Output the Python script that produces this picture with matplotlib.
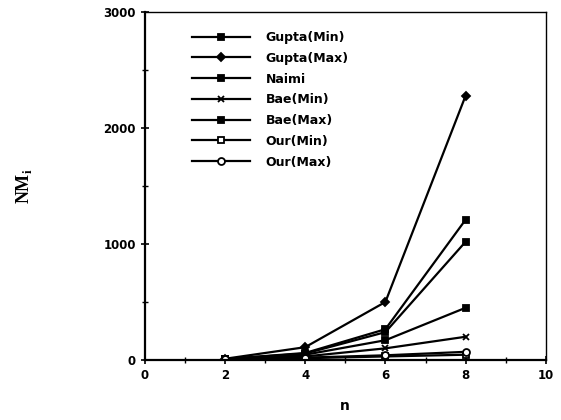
import numpy as np
import matplotlib.pyplot as plt
from matplotlib.ticker import MultipleLocator

# Data
n = [2, 4, 6, 8]
gupta_min = [8, 60, 265, 1210]
gupta_max = [10, 110, 500, 2280]
naimi = [8, 55, 240, 1020]
bae_min = [5, 30, 100, 200]
bae_max = [6, 45, 170, 450]
our_min = [3, 15, 30, 45]
our_max = [4, 20, 40, 70]

series = [
    ('Gupta(Min)', gupta_min, 's', 'k'),
    ('Gupta(Max)', gupta_max, 'D', 'k'),
    ('Naimi', naimi, 's', 'k'),
    ('Bae(Min)', bae_min, 'x', 'k'),
    ('Bae(Max)', bae_max, 's', 'k'),
    ('Our(Min)', our_min, 's', 'w'),
    ('Our(Max)', our_max, 'o', 'w'),
]

plt.rcParams['font.family'] = 'DejaVu Sans'
fig = plt.figure(figsize=(5.61, 4.2), dpi=100)
ax = fig.add_axes([0.258, 0.143, 0.715, 0.828])

for label, y, m, fc in series:
    ms = 4 if m == 'D' else 5
    ax.plot(n, y, color='k', lw=1.6, marker=m, ms=ms, mfc=fc, mec='k',
            mew=1.3, label=label)

ax.set_xlim(0, 10)
ax.set_ylim(0, 3000)
ax.xaxis.set_major_locator(MultipleLocator(2))
ax.xaxis.set_minor_locator(MultipleLocator(1))
ax.yaxis.set_major_locator(MultipleLocator(1000))
ax.yaxis.set_minor_locator(MultipleLocator(500))
ax.tick_params(which='major', direction='inout', length=6, width=1.2,
               labelsize=8.5)
ax.tick_params(which='minor', direction='inout', length=4, width=1)
for lab in ax.get_xticklabels() + ax.get_yticklabels():
    lab.set_fontweight('bold')
for s in ['left', 'bottom']:
    ax.spines[s].set_linewidth(1.6)
for s in ['top', 'right']:
    ax.spines[s].set_linewidth(1.0)

ax.set_xlabel('n', fontsize=10, fontweight='bold', labelpad=12)
ax.set_ylabel('NM$_\\mathregular{i}$', fontsize=13, fontweight='bold',
              family='Liberation Serif', labelpad=50)

leg = ax.legend(loc='upper left', bbox_to_anchor=(0.09, 0.978), frameon=False,
                numpoints=1, handlelength=4.6, handletextpad=1.3,
                labelspacing=0.62, prop={'weight': 'bold', 'size': 9})

fig.savefig('out.png', dpi=100)
